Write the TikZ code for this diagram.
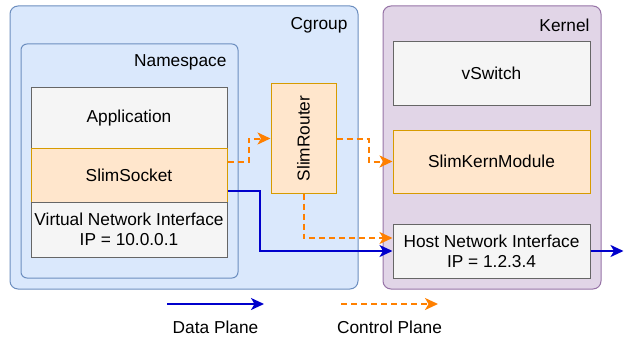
\documentclass[tikz,border=0pt]{standalone}
\usepackage{fontspec}
\setmainfont{Liberation Sans}
\usetikzlibrary{arrows.meta}

\definecolor{cgfill}{HTML}{DAE8FC}
\definecolor{cgline}{HTML}{6C8EBF}
\definecolor{knfill}{HTML}{E1D5E7}
\definecolor{knline}{HTML}{9673A6}
\definecolor{gyfill}{HTML}{F5F5F5}
\definecolor{gyline}{HTML}{666666}
\definecolor{orfill}{HTML}{FFE6CC}
\definecolor{orline}{HTML}{D79B00}
\definecolor{ctrlcol}{HTML}{FF8000}
\definecolor{datacol}{HTML}{0000CC}

\begin{document}
\begin{tikzpicture}[x=1pt, y=-1pt, font=\fontsize{17.3}{20}\selectfont,
  group/.style={draw, line width=1pt, rounded corners=8pt, inner sep=0},
  greybox/.style={draw=gyline, fill=gyfill, line width=1pt, align=center, inner sep=0},
  slimbox/.style={draw=orline, fill=orfill, line width=1pt, align=center, inner sep=0},
  dataflow/.style={datacol, line width=2pt, -{Stealth[length=13pt,width=12pt,inset=3.5pt]}},
  ctrlflow/.style={ctrlcol, line width=2pt, dash pattern=on 6pt off 4pt, -{Stealth[length=13pt,width=12pt,inset=3.5pt]}}]
  \useasboundingbox (0,0) rectangle (624,337);
  % containers
  \node [group, draw=cgline, fill=cgfill, minimum width=348, minimum height=283] (cgroup) at (184,147.5) {};
  \node [group, draw=cgline, fill=cgfill, rounded corners=6pt, minimum width=217, minimum height=234] (namespace) at (129.5,161) {};
  \node [group, draw=knline, fill=knfill, minimum width=218, minimum height=283] (kernel) at (492,147.5) {};
  \node [anchor=east] (cglabel) at (351,25) {Cgroup};
  \node [anchor=east] (nslabel) at (230,62) {Namespace};
  \node [anchor=east] (knlabel) at (593,25) {Kernel};
  % boxes
  \node [greybox, minimum width=196, minimum height=60] (app) at (129,118) {Application};
  \node [slimbox, minimum width=196, minimum height=54] (sock) at (129,175) {SlimSocket};
  \node [greybox, minimum width=196, minimum height=55] (vni) at (129,229.5) {Virtual Network Interface\\IP = 10.0.0.1};
  \node [slimbox, rotate=90, minimum width=109, minimum height=65] (router) at (303.5,138.5) {SlimRouter};
  \node [greybox, minimum width=197, minimum height=63] (vswitch) at (491.5,73.5) {vSwitch};
  \node [slimbox, minimum width=197, minimum height=63] (kmod) at (491.5,161.5) {SlimKernModule};
  \node [greybox, minimum width=197, minimum height=54] (host) at (491.5,251) {Host Network Interface\\IP = 1.2.3.4};
  % flows (router is turned, so its north is the left side)
  \draw [ctrlflow] ([yshift=13pt]sock.east) -- +(21,0) |- (router.north);
  \draw [ctrlflow] (router.south) -- +(32,0) |- (kmod.west);
  \draw [ctrlflow] (router.west) |- ([yshift=13pt]host.west);
  \draw [dataflow] ([yshift=-16pt]sock.east) -- +(32,0) |- (host.west);
  \coordinate (hostout) at (623.5,251);
  \draw [dataflow] (host.east) -- (hostout);
  % legend
  \coordinate (dataA) at (167,304);
  \coordinate (dataB) at (264,304);
  \coordinate (ctrlA) at (341,304);
  \coordinate (ctrlB) at (438,304);
  \draw [dataflow] (dataA) -- (dataB);
  \draw [ctrlflow] (ctrlA) -- (ctrlB);
  \node (datalabel) at (215.5,327) {Data Plane};
  \node (ctrllabel) at (389.5,327) {Control Plane};
\end{tikzpicture}
\end{document}
